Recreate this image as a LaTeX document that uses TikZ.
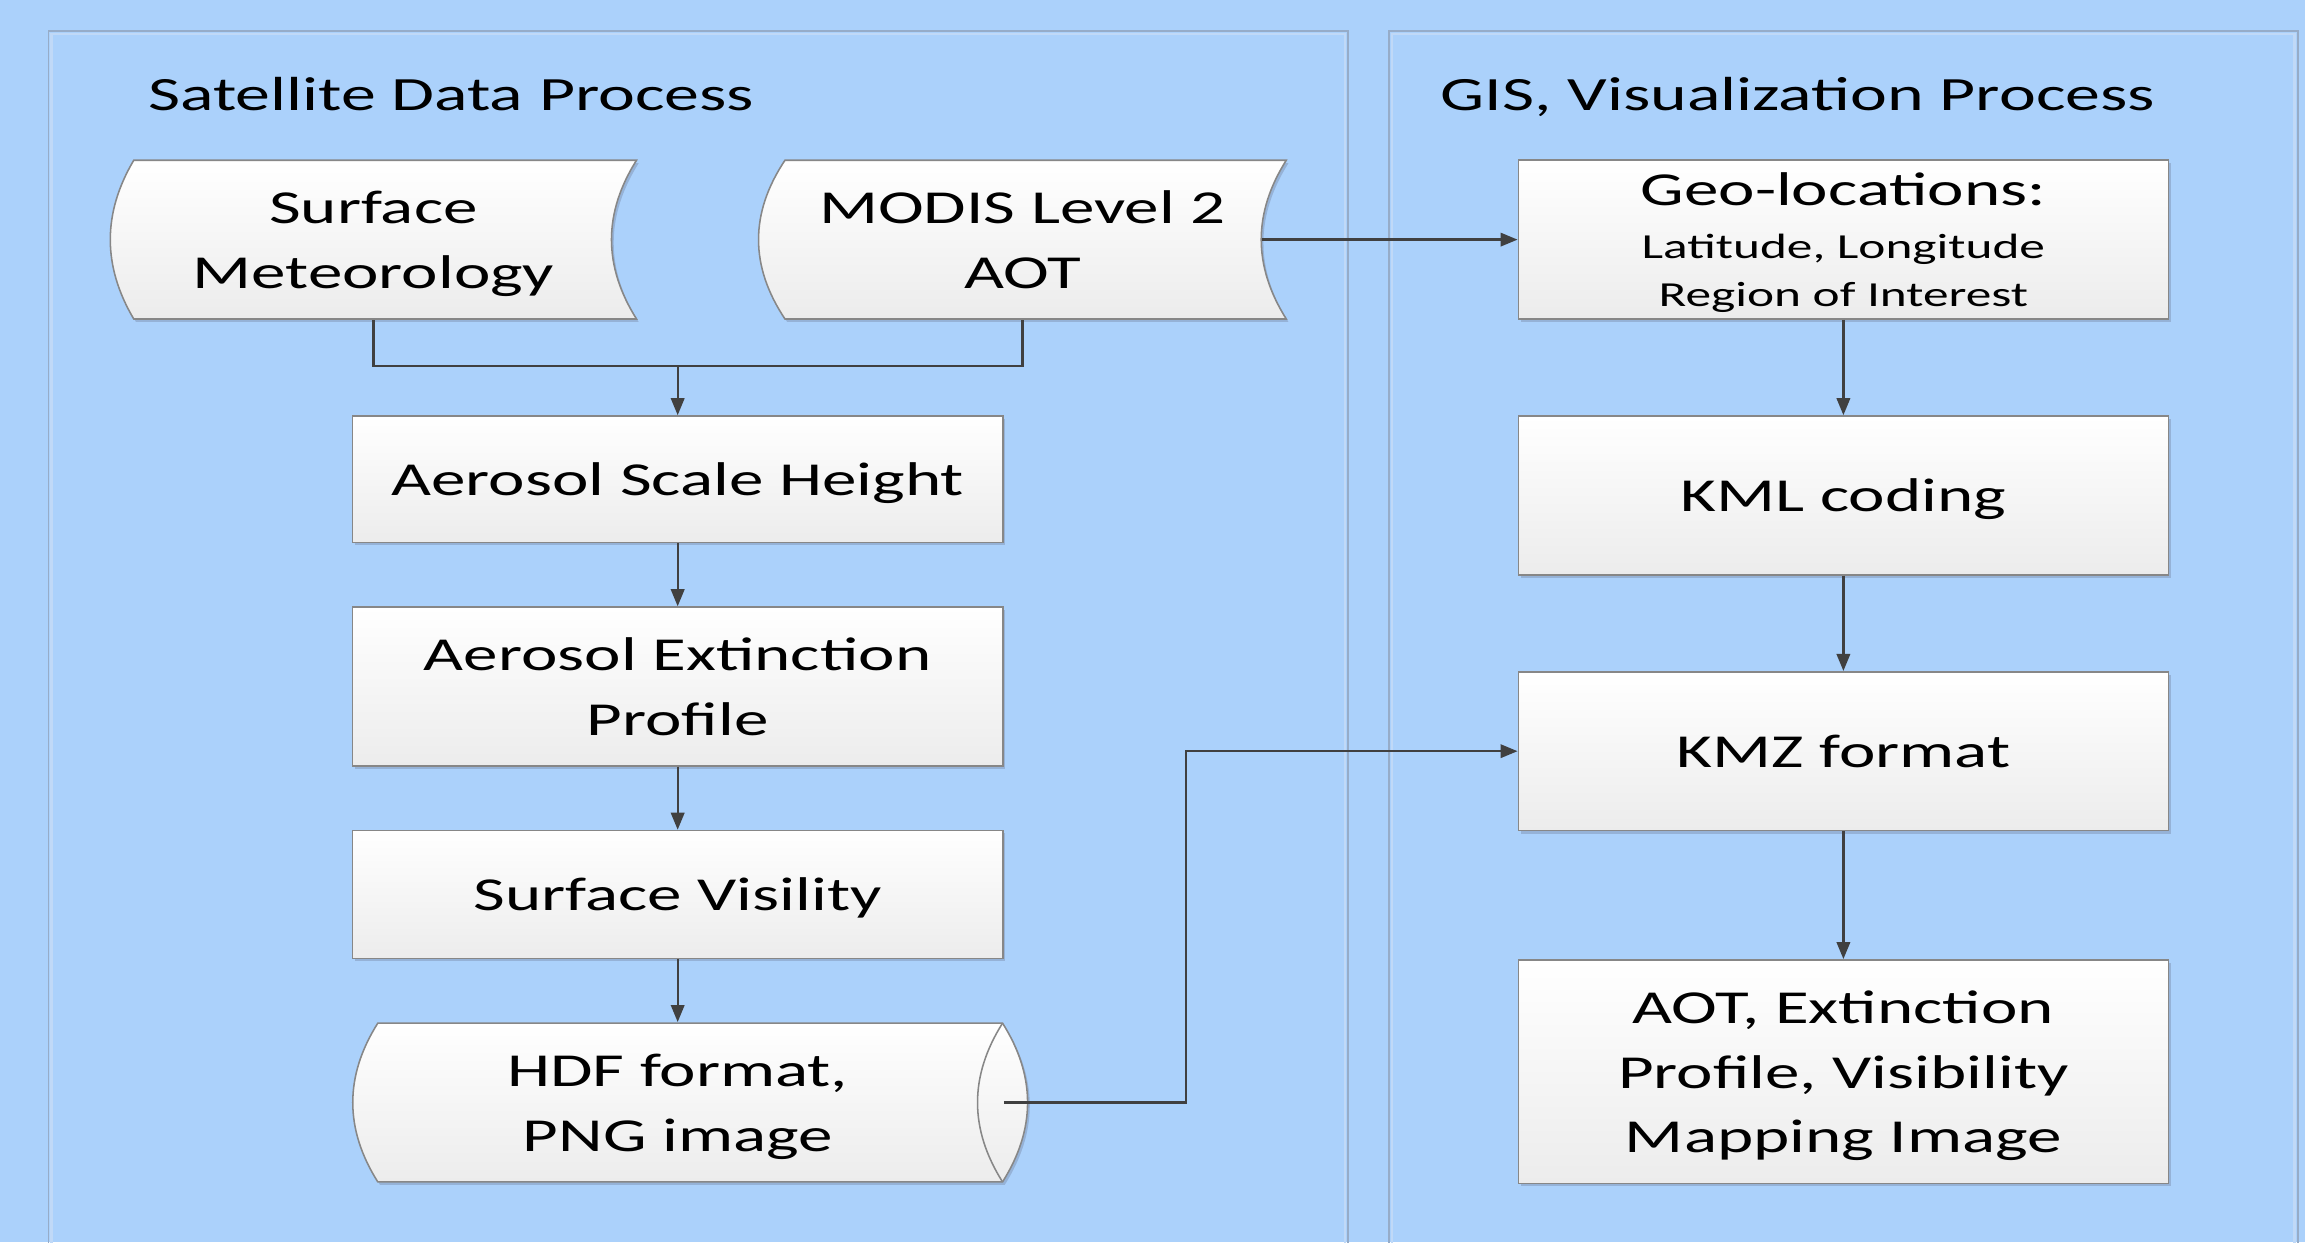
\documentclass[tikz,border=0pt]{standalone}
\usepackage{fontspec}
\setmainfont{Carlito}[FakeStretch=1.46]
\usetikzlibrary{arrows.meta,shadows,calc}
\definecolor{bgblue}{RGB}{171,209,251}
\definecolor{panelline}{RGB}{150,172,200}
\definecolor{panelinner}{RGB}{192,217,247}
\definecolor{boxline}{RGB}{135,135,135}
\definecolor{boxbot}{RGB}{236,236,236}
\definecolor{wirecol}{RGB}{64,64,64}
\definecolor{shadowcol}{RGB}{140,165,200}

\begin{document}
\begin{tikzpicture}[x=0.01cm,y=-0.01cm,
  procbox/.style={draw=boxline, line width=0.3pt, top color=white, bottom color=boxbot,
    minimum width=4.42cm, inner sep=0pt, text depth=0pt, align=center,
    font=\fontsize{9.15}{12.5}\selectfont,
    drop shadow={shadow xshift=0.015cm, shadow yshift=-0.02cm, fill=shadowcol, opacity=0.7}},
  txt/.style={inner sep=0pt, text depth=0pt, align=center, font=\fontsize{9.15}{12.5}\selectfont},
  datashape/.style={draw=boxline, line width=0.3pt, top color=white, bottom color=boxbot},
  shapeshadow/.style={fill=shadowcol, opacity=0.7, xshift=0.015cm, yshift=-0.02cm},
  wire/.style={draw=wirecol, line width=0.45pt},
  flow/.style={wire, -{Triangle[length=3.3pt,width=2.6pt]}},
  paneltitle/.style={anchor=base, inner sep=0pt, font=\fontsize{9.25}{11}\selectfont}]

% canvas
\useasboundingbox (0,0) rectangle (1568,845);
\fill[bgblue] (0,0) rectangle (1568,845);
\clip (0,0) rectangle (1568,845);

% swimlane panels
\draw[panelinner, line width=0.5pt] (35,23) rectangle (915,870);
\draw[panelline, line width=0.35pt] (33,21) rectangle (917,870);
\draw[panelinner, line width=0.5pt] (947,23) rectangle (1561,870);
\draw[panelline, line width=0.35pt] (945,21) rectangle (1563,870);

\node[paneltitle] (t1) at (307,75) {Satellite Data Process};
\node[paneltitle] (t2) at (1223,75) {GIS, Visualization Process};

% stored-data shapes (inputs)
\path[shapeshadow] (91,109) -- (433,109) .. controls (410.3,145) and (410.3,181) .. (433,217)
  -- (91,217) .. controls (69.7,181) and (69.7,145) .. (91,109) -- cycle;
\path[datashape] (91,109) -- (433,109) .. controls (410.3,145) and (410.3,181) .. (433,217)
  -- (91,217) .. controls (69.7,181) and (69.7,145) .. (91,109) -- cycle;
\node[txt, minimum width=3.58cm, minimum height=1.08cm] (sm) at (254,163) {Surface\\Meteorology};

\path[shapeshadow] (534,109) -- (875,109) .. controls (852.3,145) and (852.3,181) .. (875,217)
  -- (534,217) .. controls (510,181) and (510,145) .. (534,109) -- cycle;
\path[datashape] (534,109) -- (875,109) .. controls (852.3,145) and (852.3,181) .. (875,217)
  -- (534,217) .. controls (510,181) and (510,145) .. (534,109) -- cycle;
\node[txt, minimum width=3.59cm, minimum height=1.08cm] (md) at (695.5,163) {MODIS Level 2\\AOT};

% processing steps
\node[procbox, minimum height=0.86cm] (ash) at (461,326) {Aerosol Scale Height};
\node[procbox, minimum height=1.08cm] (aep) at (461,467) {Aerosol Extinction\\Profile};
\node[procbox, minimum height=0.87cm] (sv) at (461,608.5) {Surface Visility};

% output cylinder
\path[shapeshadow] (257,696) -- (682,696) .. controls (704.7,732) and (704.7,768) .. (682,804)
  -- (257,804) .. controls (234.3,768) and (234.3,732) .. (257,696) -- cycle;
\path[datashape] (257,696) -- (682,696) .. controls (704.7,732) and (704.7,768) .. (682,804)
  -- (257,804) .. controls (234.3,768) and (234.3,732) .. (257,696) -- cycle;
\draw[boxline, line width=0.3pt] (682,696) .. controls (659.3,732) and (659.3,768) .. (682,804);
\node[txt, minimum width=4.42cm, minimum height=1.08cm] (hdf) at (461,750) {HDF format,\\PNG image};

% GIS side
\node[procbox, minimum height=1.08cm, font=\fontsize{6.8}{9.4}\selectfont] (geo) at (1254,163)
  {{\fontsize{9.15}{10.2}\selectfont Geo-locations:}\\[0.8pt] Latitude, Longitude\\ Region of Interest};
\node[procbox, minimum height=1.08cm] (kml) at (1254,337) {KML coding};
\node[procbox, minimum height=1.08cm] (kmz) at (1254,511) {KMZ format};
\node[procbox, minimum height=1.52cm] (aot) at (1254,729) {AOT, Extinction\\Profile, Visibility\\Mapping Image};

% connectors
\coordinate (join) at (461,249);
\draw[wire] (sm.south) |- (join) -| (md.south);
\draw[flow] (join) -- (ash.north);
\draw[flow] (ash) -- (aep);
\draw[flow] (aep) -- (sv);
\draw[flow] (sv.south) -- (hdf.north);
\draw[flow] ($(md.east)+(-17,0)$) -- (geo.west);
\draw[flow] (hdf.east) -- ++(124,0) |- (kmz.west);
\draw[flow] (geo) -- (kml);
\draw[flow] (kml) -- (kmz);
\draw[flow] (kmz) -- (aot);
\end{tikzpicture}
\end{document}
